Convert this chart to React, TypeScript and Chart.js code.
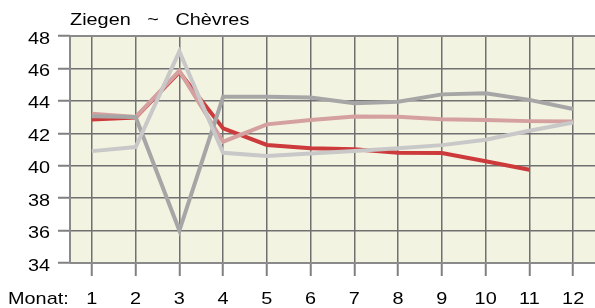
import React, { useEffect, useRef } from "react";
import { Chart, registerables } from "chart.js";

Chart.register(...registerables);

const months = ["1", "2", "3", "4", "5", "6", "7", "8", "9", "10", "11", "12"];
const seriesDarkGray = [43.05, 43.0, 36.0, 44.25, 44.25, 44.2, 43.85, 43.95, 44.4, 44.47, 44.06, 43.5];
const seriesLightGray = [40.9, 41.15, 47.05, 40.8, 40.6, 40.75, 40.9, 41.08, 41.27, 41.6, 42.16, 42.66];
const seriesPink = [43.2, 43.0, 45.85, 41.48, 42.55, 42.82, 43.03, 43.02, 42.87, 42.82, 42.75, 42.72];
const seriesRed = [42.85, 42.97, 45.78, 42.3, 41.28, 41.07, 41.02, 40.8, 40.78, 40.28, 39.75];
const yTicks = [34, 36, 38, 40, 42, 44, 46, 48];
const titleText = "Ziegen   ~   Chèvres";
const axisLabel = "Monat:";

const FONT = "'Liberation Sans', Arial, sans-serif";
const SX = 1.168;

function drawText(ctx: CanvasRenderingContext2D, text: string, x: number, y: number, align: CanvasTextAlign) {
  ctx.save();
  ctx.translate(x, y);
  ctx.scale(SX, 1);
  ctx.textAlign = align;
  ctx.textBaseline = "alphabetic";
  ctx.fillText(text, 0, 0);
  ctx.restore();
}

const framePlugin = {
  id: "frame",
  beforeDraw(chart: any) {
    const { ctx, chartArea } = chart;
    ctx.save();
    ctx.fillStyle = "#f3f3e2";
    ctx.fillRect(chartArea.left, chartArea.top, chartArea.right - chartArea.left, chartArea.bottom - chartArea.top);
    ctx.restore();
  },
  beforeDatasetsDraw(chart: any) {
    const { ctx, chartArea } = chart;
    ctx.save();
    ctx.strokeStyle = "#8a8a8a";
    ctx.lineWidth = 2;
    ctx.beginPath();
    ctx.moveTo(chartArea.left, chartArea.top);
    ctx.lineTo(chartArea.right, chartArea.top);
    ctx.moveTo(chartArea.left, chartArea.bottom);
    ctx.lineTo(chartArea.right, chartArea.bottom);
    ctx.moveTo(chartArea.left, chartArea.top);
    ctx.lineTo(chartArea.left, chartArea.bottom);
    ctx.stroke();
    ctx.restore();
  },
  afterDraw(chart: any) {
    const { ctx, chartArea, scales } = chart;
    ctx.save();
    ctx.fillStyle = "#000";
    ctx.font = "17px " + FONT;
    drawText(ctx, titleText, chartArea.left, 25, "left");
    drawText(ctx, axisLabel, 8, 303.5, "left");
    months.forEach((m, i) => {
      drawText(ctx, m, scales.x.getPixelForValue(i), 303.5, "center");
    });
    yTicks.forEach((v) => {
      drawText(ctx, String(v), 50, scales.y.getPixelForValue(v) + 7.5, "right");
    });
    ctx.restore();
  },
};

export default function App() {
  const ref = useRef<HTMLCanvasElement>(null);
  useEffect(() => {
    document.body.style.margin = "0";
    const canvas = ref.current!;
    const chart = new Chart(canvas, {
      type: "line",
      data: {
        labels: months,
        datasets: [
          { data: seriesLightGray, borderColor: "#c8c8c8", borderWidth: 4 },
          { data: seriesDarkGray, borderColor: "#a6a6a6", borderWidth: 4 },
          { data: seriesPink, borderColor: "#d4a0a0", borderWidth: 4 },
          { data: seriesRed, borderColor: "#cc3a3c", borderWidth: 4 },
        ].map((d) => ({ ...d, pointRadius: 0, tension: 0, fill: false })),
      },
      options: {
        animation: false,
        responsive: false,
        devicePixelRatio: 1,
        layout: { padding: { top: 36, right: 0, left: 0, bottom: 0 } },
        plugins: { legend: { display: false }, tooltip: { enabled: false }, title: { display: false } },
        scales: {
          x: {
            offset: true,
            grid: {
              offset: false,
              color: "#707070",
              lineWidth: 1.5,
              borderDash: [2, 4],
              tickLength: 13,
              tickColor: "#808080",
              tickWidth: 2,
              tickBorderDash: [],
            },
            border: { display: false },
            ticks: { display: false, autoSkip: false, maxRotation: 0 },
            afterFit: (s: any) => { s.height = 45; },
          },
          y: {
            min: 34,
            max: 48,
            afterBuildTicks: (s: any) => { s.ticks = yTicks.map((v) => ({ value: v })); },
            grid: {
              color: "#707070",
              lineWidth: 1.5,
              borderDash: [3, 4],
              tickLength: 12,
              tickColor: "#808080",
              tickWidth: 2,
              tickBorderDash: [],
            },
            border: { display: false },
            ticks: { display: false },
            afterFit: (s: any) => { s.width = 70; },
          },
        },
      },
      plugins: [framePlugin],
    });
    return () => chart.destroy();
  }, []);
  return <canvas ref={ref} width={595} height={308} style={{ display: "block" }} />;
}
